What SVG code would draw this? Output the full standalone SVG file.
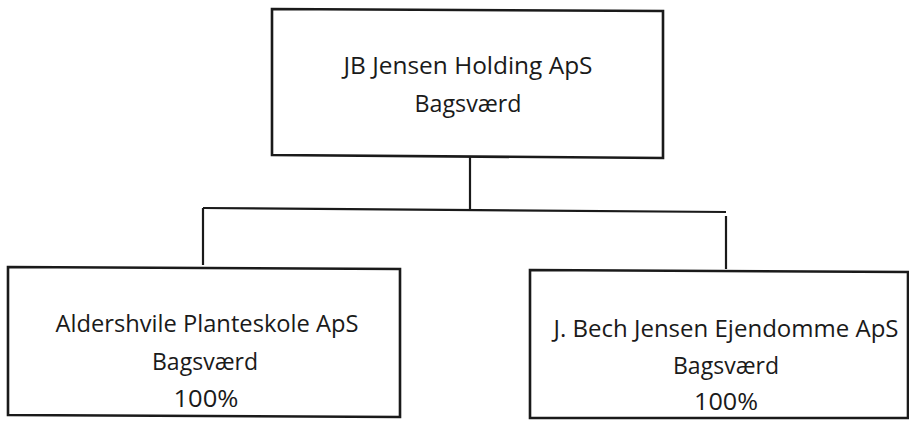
<svg xmlns="http://www.w3.org/2000/svg" width="909" height="421" viewBox="0 0 909 421">
<style>
.box{fill:#fff;stroke:#1a1a1a;stroke-width:2.6}
.ln{fill:none;stroke:#1a1a1a;stroke-width:2.2}
text{font-family:"Open Sans","Liberation Sans",sans-serif;font-size:24px;fill:#1a1a1a;text-anchor:middle}
</style>
<rect width="909" height="421" fill="#fff"/>
<g id="connectors">
<line class="ln" x1="470" y1="157" x2="470" y2="209"/>
<line class="ln" x1="203" y1="208" x2="726" y2="212"/>
<line class="ln" x1="203" y1="208" x2="203" y2="265"/>
<line class="ln" x1="726" y1="216" x2="726" y2="269"/>
</g>
<g id="holding">
<polygon class="box" points="272,9 663,11 663,158 272,155"/>
<text x="468" y="74" textLength="249" lengthAdjust="spacingAndGlyphs">JB Jensen Holding ApS</text>
<text x="468" y="112" textLength="107" lengthAdjust="spacingAndGlyphs">Bagsværd</text>
</g>
<g id="aldershvile">
<polygon class="box" points="8,267 400,269 400,417 8,415"/>
<text x="207" y="332" textLength="303" lengthAdjust="spacingAndGlyphs">Aldershvile Planteskole ApS</text>
<text x="205" y="370" textLength="106" lengthAdjust="spacingAndGlyphs">Bagsværd</text>
<text x="206" y="407" textLength="65" lengthAdjust="spacingAndGlyphs">100%</text>
</g>
<g id="ejendomme">
<polygon class="box" points="530,270 908,272 908,418 530,418"/>
<text x="726" y="337" textLength="345" lengthAdjust="spacingAndGlyphs">J. Bech Jensen Ejendomme ApS</text>
<text x="726" y="374" textLength="106" lengthAdjust="spacingAndGlyphs">Bagsværd</text>
<text x="726" y="410" textLength="64" lengthAdjust="spacingAndGlyphs">100%</text>
</g>
</svg>
